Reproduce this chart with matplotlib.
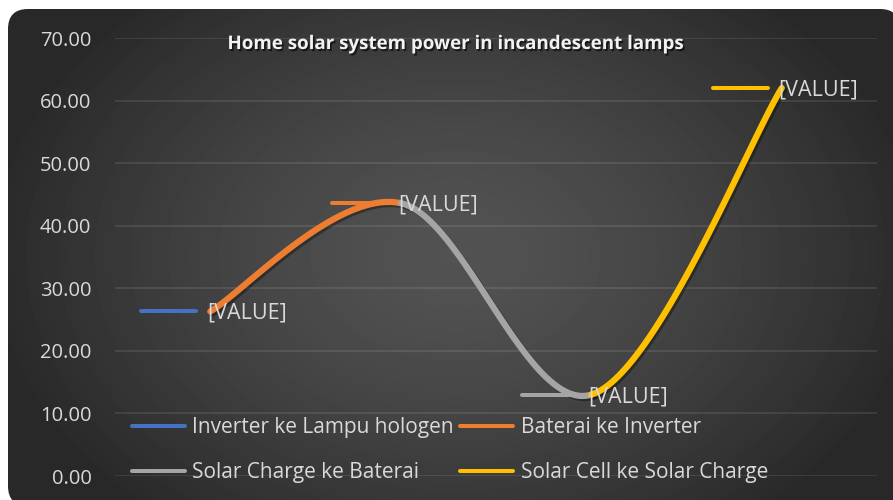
import numpy as np
import matplotlib
matplotlib.use("Agg")
import matplotlib.pyplot as plt
import matplotlib.patheffects as pe
from matplotlib.lines import Line2D
from matplotlib.patches import FancyBboxPatch

plt.rcParams["font.family"] = ["Open Sans", "DejaVu Sans"]

# data
series_names = [
    "Inverter ke Lampu hologen",
    "Baterai ke Inverter",
    "Solar Charge ke Baterai",
    "Solar Cell ke Solar Charge",
]
values = [26.3, 43.6, 13.0, 62.0]
colors = ["#4472C4", "#ED7D31", "#A5A5A5", "#FFC000"]
y_ticks = [0, 10, 20, 30, 40, 50, 60, 70]
title = "Home solar system power in incandescent lamps"
label_text = "[VALUE]"

W, H = 893, 500
fig = plt.figure(figsize=(W / 100, H / 100), dpi=100, facecolor="white")

# background: rounded chart area with a radial gradient
bg = fig.add_axes([0, 0, 1, 1], zorder=0)
bg.set_xlim(0, W)
bg.set_ylim(H, 0)
bg.axis("off")
yy, xx = np.mgrid[0:H, 0:W]
r = np.sqrt(((xx - 455) / 470.0) ** 2 + ((yy - 255) / 340.0) ** 2)
shade = 0.325 - 0.165 * np.clip(r, 0, 1) ** 1.4
img = bg.imshow(shade, cmap="gray", vmin=0, vmax=1, extent=(0, W, H, 0),
                interpolation="bilinear")
box = FancyBboxPatch((8, 9), 892, 497, boxstyle="round,pad=0,rounding_size=20",
                     facecolor="none", edgecolor="none", transform=bg.transData)
bg.add_patch(box)
img.set_clip_path(box)

# plot area
left, right, top, bottom = 115, 877, 38, 476
ax = fig.add_axes([left / W, 1 - bottom / H, (right - left) / W, (bottom - top) / H],
                  zorder=1)
ax.set_facecolor("none")
ax.set_xlim(-0.5, 3.5)
ax.set_ylim(0, 70)
for s in ax.spines.values():
    s.set_visible(False)
ax.set_xticks([])
ax.set_yticks(y_ticks)
ax.set_yticklabels([f"{v:.2f}" for v in y_ticks])
ax.tick_params(axis="y", length=0, pad=17, labelsize=14.5, labelcolor="#D9D9D9")
ax.grid(axis="y", color="white", alpha=0.1, linewidth=1.3)
ax.set_axisbelow(True)

# excel style smoothed line (cardinal bezier, tension 1/6)
x = np.arange(len(values), dtype=float)
pts = np.column_stack([x, values])
n = len(pts)
shadow = [pe.SimpleLineShadow(offset=(1.5, -1.5), shadow_color="black", alpha=0.35),
          pe.Normal()]
t = np.linspace(0, 1, 60)[:, None]
for i in range(n - 1):
    p0 = pts[i]
    p3 = pts[i + 1]
    prev = pts[i - 1] if i > 0 else pts[i]
    nxt = pts[i + 2] if i + 2 < n else pts[i + 1]
    c1 = p0 + (p3 - prev) / 6
    c2 = p3 - (nxt - p0) / 6
    curve = ((1 - t) ** 3) * p0 + 3 * ((1 - t) ** 2) * t * c1 \
        + 3 * (1 - t) * t ** 2 * c2 + t ** 3 * p3
    ax.plot(curve[:, 0], curve[:, 1], color=colors[i + 1], lw=4.5,
            solid_capstyle="round", path_effects=shadow, zorder=3)

# data labels with legend keys
px = 4 / (right - left)  # data units per pixel along x
for i, v in enumerate(values):
    ax.plot([x[i] - 69 * px, x[i] - 14 * px], [v, v], color=colors[i], lw=2.9,
            solid_capstyle="round", zorder=4)
    ax.text(x[i] - 3 * px, v - 0.3, label_text, color="#D9D9D9", fontsize=15.5,
            ha="left", va="center", zorder=5)

# title
fig.text(456 / W, 1 - 44 / H, title, ha="center", va="center", fontsize=13.5,
         fontweight="bold", color="#F2F2F2",
         path_effects=[pe.withSimplePatchShadow(offset=(1.2, -1.5),
                                                shadow_rgbFace="black", alpha=0.6)])

# legend
order = [0, 2, 1, 3]
handles = [Line2D([], [], color=colors[i], lw=2.9, solid_capstyle="round") for i in order]
labels = [series_names[i] for i in order]
leg = fig.legend(handles, labels, ncol=2, loc="upper left",
                 bbox_to_anchor=(132 / W, 1 - 417 / H), frameon=False,
                 fontsize=15, labelcolor="#D9D9D9", handlelength=2.55,
                 handletextpad=0.35, columnspacing=0.3, labelspacing=1.15,
                 borderpad=0, borderaxespad=0)
leg.set_zorder(6)

fig.savefig("out.png", dpi=100, facecolor="white")
